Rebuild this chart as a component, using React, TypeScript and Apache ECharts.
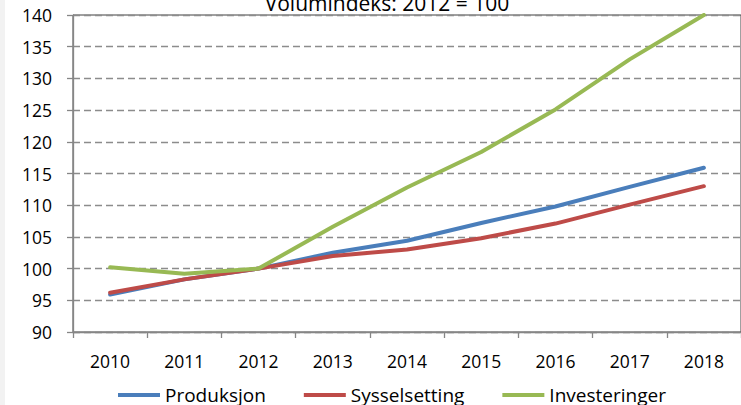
import React, { useEffect, useRef } from "react";
import * as echarts from "echarts";

const years = ["2010", "2011", "2012", "2013", "2014", "2015", "2016", "2017", "2018"];
const produksjon = [95.9, 98.3, 100, 102.5, 104.4, 107.2, 109.8, 112.9, 115.9];
const sysselsetting = [96.2, 98.3, 100, 102.0, 103.0, 104.8, 107.1, 110.1, 113.0];
const investeringer = [100.2, 99.2, 100, 106.6, 112.8, 118.4, 125.1, 133.0, 140.0];
const titleText = "Volumindeks: 2012 = 100";
const seriesNames = ["Produksjon", "Sysselsetting", "Investeringer"];
const seriesColors = ["#4a7ebb", "#be4b48", "#98b954"];

const FONT = "'Open Sans', Lato, sans-serif";

export default function App() {
  const ref = useRef<HTMLDivElement>(null);
  useEffect(() => {
    if (!ref.current) return;
    const chart = echarts.init(ref.current, null, { renderer: "svg" });
    const data = [produksjon, sysselsetting, investeringer];
    chart.setOption({
      animation: false,
      backgroundColor: "#ffffff",
      textStyle: { fontFamily: FONT },
      title: {
        text: titleText,
        left: 387,
        textAlign: "center",
        top: -10,
        padding: 0,
        textStyle: { fontFamily: FONT, fontSize: 21, fontWeight: "normal", color: "#000", lineHeight: 25 },
      },
      graphic: [
        { type: "rect", left: 0, top: 0, shape: { x: 0, y: 0, width: 5, height: 405 }, style: { fill: "#f2f2f2" }, z: -1 },
      ],
      legend: {
        left: 118,
        top: 385,
        padding: 0,
        icon: "rect",
        itemWidth: 42,
        itemHeight: 4,
        itemGap: 38,
        textStyle: { fontFamily: FONT, fontSize: 19, color: "#000", lineHeight: 20, padding: [0, 0, 0, 0] },
        data: seriesNames,
      },
      grid: {
        left: 73,
        top: 15,
        width: 678,
        height: 317,
        show: true,
        borderColor: "#404040",
        borderWidth: 1,
        containLabel: false,
      },
      xAxis: {
        type: "category",
        data: years,
        boundaryGap: true,
        axisLine: { lineStyle: { color: "#868686", width: 1.3 } },
        axisTick: { show: true, length: 6, lineStyle: { color: "#868686", width: 1.3 } },
        axisLabel: { color: "#000", fontSize: 17.5, fontFamily: FONT, margin: 20 },
      },
      yAxis: {
        type: "value",
        min: 90,
        max: 140,
        interval: 5,
        axisLine: { show: true, lineStyle: { color: "#868686", width: 1.3 } },
        axisTick: { show: true, length: 6, lineStyle: { color: "#868686", width: 1.3 } },
        axisLabel: { color: "#000", fontSize: 17.5, fontFamily: FONT, margin: 21 },
        splitLine: { show: true, lineStyle: { color: "#8c8c8c", width: 1.3, type: [7, 4] } },
      },
      series: seriesNames.map((name, i) => ({
        name,
        type: "line",
        data: data[i],
        symbol: "none",
        lineStyle: { color: seriesColors[i], width: 4, cap: "round", join: "round" },
        itemStyle: { color: seriesColors[i] },
        z: 2 + i,
      })),
    });
    return () => chart.dispose();
  }, []);
  return (
    <div
      ref={ref}
      style={{ position: "fixed", left: 0, top: 0, width: 741, height: 405 }}
    />
  );
}
